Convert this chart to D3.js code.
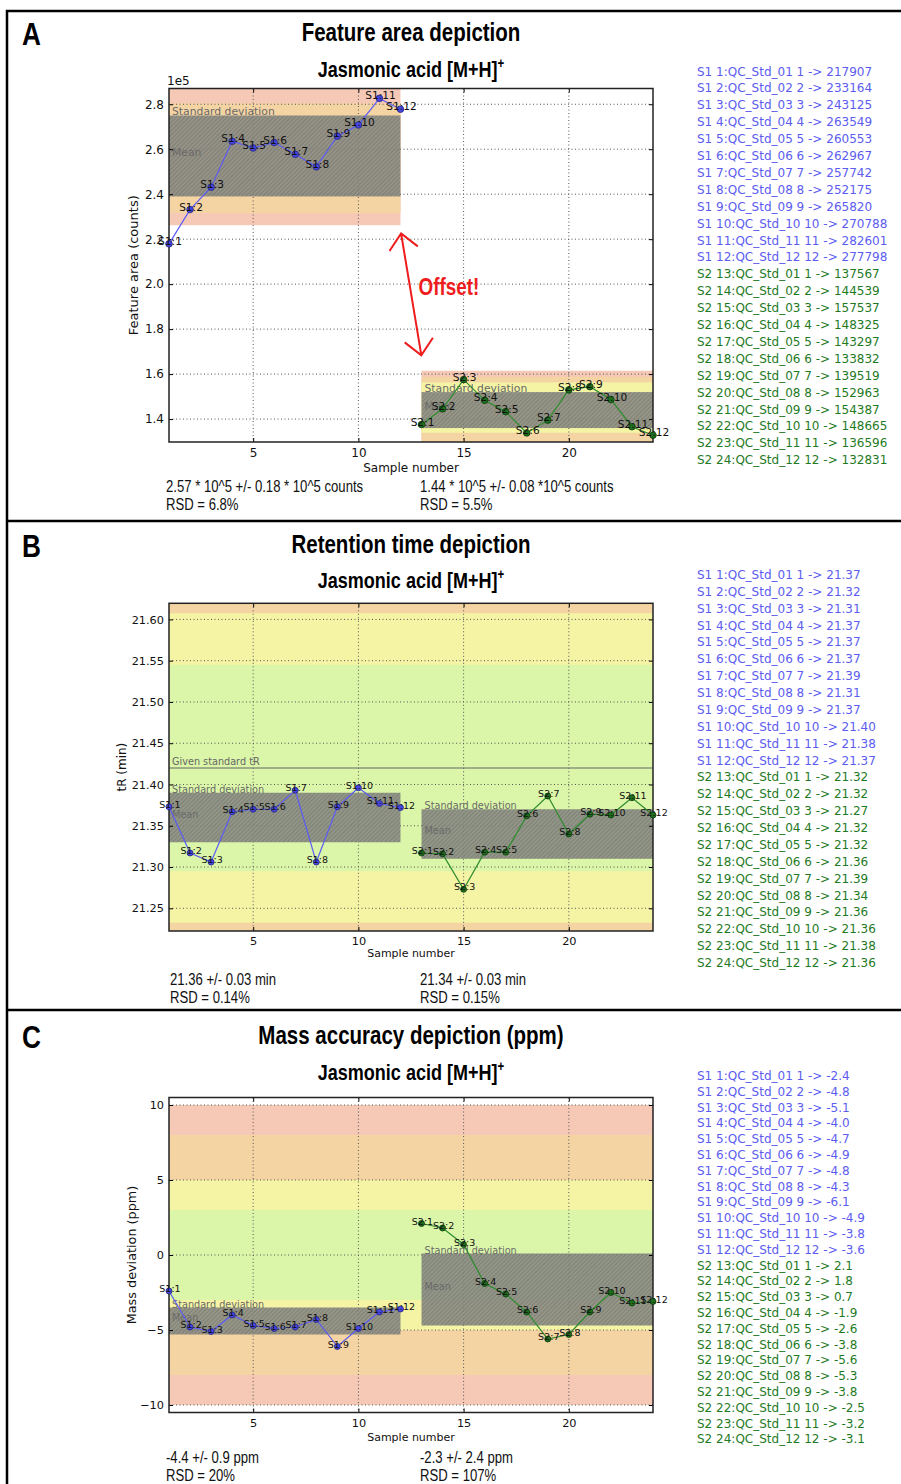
<!DOCTYPE html>
<html lang="en">
<head>
<meta charset="UTF-8">
<title>QC depiction - Jasmonic acid</title>
<style>
  body { margin: 0; background: #fff; }
  svg text { font-family: "DejaVu Sans", sans-serif; }
  svg .narrow { font-family: "Liberation Sans", Arial, sans-serif; }
</style>
<script src="https://cdn.jsdelivr.net/npm/d3@7"></script>
</head>
<body>
<svg id="fig" width="901" height="1484"></svg>
<script>
// --- data -------------------------------------------------------------
const sampleNames = ["QC_Std_01", "QC_Std_02", "QC_Std_03", "QC_Std_04", "QC_Std_05", "QC_Std_06",
                     "QC_Std_07", "QC_Std_08", "QC_Std_09", "QC_Std_10", "QC_Std_11", "QC_Std_12"];
const batchNames = ["S1", "S2"];
const batchRange = [[1, 12], [13, 24]];          // sample numbers of each batch
const xTicks = [5, 10, 15, 20];

// feature area (counts)
const areaS1 = [217907, 233164, 243125, 263549, 260553, 262967, 257742, 252175, 265820, 270788, 282601, 277798];
const areaS2 = [137567, 144539, 157537, 148325, 143297, 133832, 139519, 152963, 154387, 148665, 136596, 132831];
const areaStats = [[2.57, 0.18], [1.44, 0.08]];  // mean, sd (x 10^5)
const areaTicks = [1.4, 1.6, 1.8, 2.0, 2.2, 2.4, 2.6, 2.8];
// [x0, x1, y0, y1, level]
const areaBands = [
  [1, 12, 2.262, 2.90, "pink"], [1, 12, 2.316, 2.804, "orange"],
  [13, 24, 1.25, 1.615, "pink"], [13, 24, 1.25, 1.588, "orange"], [13, 24, 1.339, 1.563, "yellow"]
];
const areaText = [["2.57 * 10^5 +/- 0.18 * 10^5 counts", "RSD = 6.8%"],
                  ["1.44 * 10^5 +/- 0.08 *10^5 counts", "RSD = 5.5%"]];
const offsetArrow = [[12.03, 2.225], [12.99, 1.684]];
const offsetLabel = [14.3, 1.95, "Offset!"];

// retention time (min)
const rtS1 = [21.373, 21.317, 21.306, 21.367, 21.370, 21.370, 21.393, 21.306, 21.373, 21.396, 21.377, 21.372];
const rtS2 = [21.317, 21.316, 21.273, 21.318, 21.318, 21.362, 21.386, 21.340, 21.364, 21.363, 21.384, 21.363];
const rtStats = [[21.36, 0.03], [21.34, 0.03]];
const rtTicks = [21.25, 21.30, 21.35, 21.40, 21.45, 21.50, 21.55, 21.60];
const rtStandard = 21.42;
const rtBands = [
  [1, 24, 21.10, 21.70, "orange"], [1, 24, 21.2325, 21.6075, "yellow"], [1, 24, 21.295, 21.545, "green"]
];
const rtText = [["21.36 +/- 0.03 min", "RSD = 0.14%"], ["21.34 +/- 0.03 min", "RSD = 0.15%"]];

// mass deviation (ppm)
const massS1 = [-2.4, -4.8, -5.1, -4.0, -4.7, -4.9, -4.8, -4.3, -6.1, -4.9, -3.8, -3.6];
const massS2 = [2.1, 1.8, 0.7, -1.9, -2.6, -3.8, -5.6, -5.3, -3.8, -2.5, -3.2, -3.1];
const massStats = [[-4.4, 0.9], [-2.3, 2.4]];
const massTicks = [-10, -5, 0, 5, 10];
const massBands = [
  [1, 24, -10, 10, "pink"], [1, 24, -8, 8, "orange"], [1, 24, -5, 5, "yellow"], [1, 24, -3, 3, "green"]
];
const massText = [["-4.4 +/- 0.9 ppm", "RSD = 20%"], ["-2.3 +/- 2.4 ppm", "RSD = 107%"]];

// --- styles -----------------------------------------------------------
const bandColors = {pink: "#f6c9b7", orange: "#f5d4a4", yellow: "#f4f4a4", green: "#dbf6a8"};
const lineColors = ["#5b5bf5", "#2e8b2e"];
const dotFill = ["#4848e0", "#1e6e1e"];
const dotStroke = ["#22227a", "#0a3a0a"];
const listColors = ["#5c5cf0", "#1f7a1f"];
const plotLeft = 169, plotRight = 653;
const squeeze = 0.82;   // Arial Narrow look from Liberation Sans

const svg = d3.select("#fig");
const defs = svg.append("defs");

const pat = defs.append("pattern").attr("id", "hatch")
    .attr("width", 3).attr("height", 3)
    .attr("patternUnits", "userSpaceOnUse")
    .attr("patternTransform", "rotate(45)");
pat.append("rect").attr("width", 3).attr("height", 3).attr("fill", "#8a8b84");
pat.append("line").attr("x1", 0).attr("y1", 0).attr("x2", 0).attr("y2", 3)
    .attr("stroke", "#5e605a").attr("stroke-width", 1);

// outer frame and dividers
svg.append("rect").attr("x", 7).attr("y", 11).attr("width", 920).attr("height", 1500)
    .attr("fill", "none").attr("stroke", "#000").attr("stroke-width", 2.5);
[521, 1010].forEach(yy => {
  svg.append("line").attr("x1", 7).attr("x2", 901).attr("y1", yy).attr("y2", yy)
      .attr("stroke", "#000").attr("stroke-width", 2.5);
});

// condensed text (no narrow face installed, so squeeze horizontally)
function narrow(sel, x, y, size, anchor) {
  return sel.append("text").attr("class", "narrow")
      .attr("transform", `translate(${x},${y}) scale(${squeeze},1)`)
      .attr("text-anchor", anchor || "start").attr("font-size", size);
}

function drawPanel(p) {
  const x = d3.scaleLinear().domain([1, 24]).range([plotLeft, plotRight]);
  const y = d3.scaleLinear().domain(p.yDomain).range([p.plotBottom, p.plotTop]);
  const g = svg.append("g");

  // headings
  narrow(g, 22, p.letterY, 32).attr("font-weight", "bold").text(p.letter);
  narrow(g, 411, p.titleY, 25, "middle").attr("font-weight", "bold").text(p.title);
  const sub = narrow(g, 411, p.subY, 22, "middle").attr("font-weight", "bold");
  sub.append("tspan").text("Jasmonic acid [M+H]");
  sub.append("tspan").attr("font-size", 14).attr("dy", -9).text("+");

  const clipId = "clip" + p.letter;
  defs.append("clipPath").attr("id", clipId).append("rect")
      .attr("x", plotLeft).attr("y", p.plotTop)
      .attr("width", plotRight - plotLeft).attr("height", p.plotBottom - p.plotTop);
  const plot = g.append("g").attr("clip-path", `url(#${clipId})`);

  // coloured acceptance bands
  plot.selectAll("rect.band").data(p.bands).join("rect").attr("class", "band")
      .attr("x", d => x(d[0])).attr("width", d => x(d[1]) - x(d[0]))
      .attr("y", d => y(d[3])).attr("height", d => y(d[2]) - y(d[3]))
      .attr("fill", d => bandColors[d[4]]);

  // grid
  plot.selectAll("line.gy").data(p.yTicks).join("line").attr("class", "gy")
      .attr("x1", plotLeft).attr("x2", plotRight).attr("y1", d => y(d)).attr("y2", d => y(d))
      .attr("stroke", "#555").attr("stroke-dasharray", "1,2.5");
  plot.selectAll("line.gx").data(xTicks).join("line").attr("class", "gx")
      .attr("y1", p.plotTop).attr("y2", p.plotBottom).attr("x1", d => x(d)).attr("x2", d => x(d))
      .attr("stroke", "#555").attr("stroke-dasharray", "1,2.5");

  // given standard line
  if (p.standard !== undefined) {
    plot.append("line").attr("x1", plotLeft).attr("x2", plotRight)
        .attr("y1", y(p.standard)).attr("y2", y(p.standard))
        .attr("stroke", "#666").attr("stroke-width", 1.2);
    plot.append("text").attr("x", plotLeft + 3).attr("y", y(p.standard) - 3)
        .attr("font-size", p.bandFont).attr("fill", "#666").text("Given standard tR");
  }

  // mean +/- sd boxes
  p.stats.forEach((s, b) => {
    const [m, sd] = s;
    const [x0, x1] = batchRange[b];
    plot.append("rect").attr("x", x(x0)).attr("width", x(x1) - x(x0))
        .attr("y", y(m + sd)).attr("height", y(m - sd) - y(m + sd))
        .attr("fill", "url(#hatch)").attr("opacity", 0.9);
    plot.append("text").attr("x", x(x0) + 3).attr("y", y(m + sd))
        .attr("font-size", p.bandFont).attr("fill", "#6a6a6a").text("Standard deviation");
    plot.append("text").attr("x", x(x0) + 3).attr("y", y(m))
        .attr("font-size", p.bandFont).attr("fill", "#6a6a6a").text("Mean");
  });

  // axes
  const fmt = d3.format(p.fmt);
  const axL = g.append("g").attr("transform", `translate(${plotLeft},0)`)
      .call(d3.axisLeft(y).tickValues(p.yTicks).tickFormat(fmt).tickSize(-4).tickPadding(5));
  const axR = g.append("g").attr("transform", `translate(${plotRight},0)`)
      .call(d3.axisRight(y).tickValues(p.yTicks).tickFormat("").tickSize(-4));
  const axB = g.append("g").attr("transform", `translate(0,${p.plotBottom})`)
      .call(d3.axisBottom(x).tickValues(xTicks).tickFormat(d3.format("d")).tickSize(-4).tickPadding(p.xPad));
  const axT = g.append("g").attr("transform", `translate(0,${p.plotTop})`)
      .call(d3.axisTop(x).tickValues(xTicks).tickFormat("").tickSize(-4));
  [axL, axR, axB, axT].forEach(a => {
    a.select(".domain").remove();
    a.selectAll("line").attr("stroke", "#000");
    a.selectAll("text").attr("font-family", "DejaVu Sans").attr("font-size", p.tickFont).attr("fill", "#111");
  });
  g.append("rect").attr("x", plotLeft).attr("y", p.plotTop)
      .attr("width", plotRight - plotLeft).attr("height", p.plotBottom - p.plotTop)
      .attr("fill", "none").attr("stroke", "#222").attr("stroke-width", 1.5);

  g.append("text").attr("x", 411).attr("y", p.xLabelY).attr("text-anchor", "middle")
      .attr("font-size", p.labelFont).attr("fill", "#111").text("Sample number");
  g.append("text").attr("transform", `translate(${p.yLabelX},${(p.plotTop + p.plotBottom) / 2}) rotate(-90)`)
      .attr("text-anchor", "middle").attr("font-size", p.yLabelFont).attr("fill", "#111").text(p.yLabel);
  if (p.offsetText) {
    g.append("text").attr("x", plotLeft - 2).attr("y", p.plotTop - 4)
        .attr("font-size", p.tickFont).attr("fill", "#111").text(p.offsetText);
  }

  // series
  const line = d3.line().x(d => x(d[0])).y(d => y(d[1]));
  p.series.forEach((vals, b) => {
    const pts = vals.map((v, i) => [batchRange[b][0] + i, v]);
    g.append("path").datum(pts).attr("d", line)
        .attr("fill", "none").attr("stroke", lineColors[b]).attr("stroke-width", 1.2);
    g.selectAll(null).data(pts).join("circle")
        .attr("cx", d => x(d[0])).attr("cy", d => y(d[1])).attr("r", p.dotR)
        .attr("fill", dotFill[b]).attr("stroke", dotStroke[b]).attr("stroke-width", 0.8);
    g.selectAll(null).data(pts).join("text")
        .attr("x", d => x(d[0]) + 1).attr("y", d => y(d[1]) + 1)
        .attr("text-anchor", "middle").attr("font-size", p.pointFont).attr("fill", "#111")
        .text((d, i) => `${batchNames[b]}:${i + 1}`);
  });

  // annotation arrow
  if (p.arrow) {
    const [a, c] = p.arrow.map(d => [x(d[0]), y(d[1])]);
    const ang = Math.atan2(c[1] - a[1], c[0] - a[0]);
    const head = (tip, dir) => {
      const l = 21, w = 0.75;
      return `M${tip[0] + l * Math.cos(dir + w)},${tip[1] + l * Math.sin(dir + w)}L${tip[0]},${tip[1]}` +
             `L${tip[0] + l * Math.cos(dir - w)},${tip[1] + l * Math.sin(dir - w)}`;
    };
    g.append("path").attr("d", `M${a[0]},${a[1]}L${c[0]},${c[1]}` + head(a, ang) + head(c, ang + Math.PI))
        .attr("fill", "none").attr("stroke", "#ee1c1c").attr("stroke-width", 2);
    narrow(g, x(p.arrowLabel[0]), y(p.arrowLabel[1]), 23, "middle")
        .attr("font-weight", "bold").attr("fill", "#ee1c1c").text(p.arrowLabel[2]);
  }

  // summary texts
  p.summary.forEach((rows, b) => {
    rows.forEach((t, r) => {
      narrow(g, p.summaryX[b], p.summaryY[r], 16).attr("fill", "#111").text(t);
    });
  });

  // sample listing on the right
  const rows = [];
  p.series.forEach((vals, b) => vals.forEach((v, i) => rows.push({b, i, v})));
  g.selectAll(null).data(rows).join("text")
      .attr("x", 697).attr("y", (d, k) => p.listY + k * p.listStep)
      .attr("font-size", p.listFont).attr("fill", d => listColors[d.b])
      .text(d => `${batchNames[d.b]} ${batchRange[d.b][0] + d.i}:${sampleNames[d.i]} ${d.i + 1} -> ${p.listFmt(d.v)}`);
}

drawPanel({
  letter: "A", title: "Feature area depiction", letterY: 45, titleY: 41, subY: 77,
  plotTop: 88.5, plotBottom: 442, yDomain: [1.298, 2.87], yTicks: areaTicks, fmt: ".1f",
  yLabel: "Feature area (counts)", yLabelX: 138, xLabelY: 472, xPad: 6, offsetText: "1e5",
  bands: areaBands, stats: areaStats,
  series: [areaS1.map(v => v / 1e5), areaS2.map(v => v / 1e5)],
  listFmt: v => Math.round(v * 1e5),
  arrow: offsetArrow, arrowLabel: offsetLabel,
  summary: areaText, summaryX: [166, 420], summaryY: [492, 510],
  tickFont: 12, labelFont: 12, yLabelFont: 13, pointFont: 10.6, bandFont: 10.8, dotR: 3.3,
  listY: 75.5, listStep: 16.9, listFont: 12
});

drawPanel({
  letter: "B", title: "Retention time depiction", letterY: 557, titleY: 553, subY: 588,
  plotTop: 603.3, plotBottom: 931, yDomain: [21.2225, 21.6195], yTicks: rtTicks, fmt: ".2f",
  yLabel: "tR (min)", yLabelX: 126, xLabelY: 957, xPad: 6,
  bands: rtBands, stats: rtStats, standard: rtStandard,
  series: [rtS1, rtS2],
  listFmt: v => v.toFixed(2),
  summary: rtText, summaryX: [170, 420], summaryY: [985, 1003],
  tickFont: 11.3, labelFont: 11, yLabelFont: 12, pointFont: 9.5, bandFont: 9.7, dotR: 3,
  listY: 579, listStep: 16.87, listFont: 12
});

drawPanel({
  letter: "C", title: "Mass accuracy depiction (ppm)", letterY: 1048, titleY: 1044, subY: 1080,
  plotTop: 1097.5, plotBottom: 1412.5, yDomain: [-10.5, 10.5], yTicks: massTicks, fmt: "d",
  yLabel: "Mass deviation (ppm)", yLabelX: 136, xLabelY: 1441, xPad: 6,
  bands: massBands, stats: massStats,
  series: [massS1, massS2],
  listFmt: v => v.toFixed(1),
  summary: massText, summaryX: [166, 420], summaryY: [1463, 1481],
  tickFont: 11.3, labelFont: 11, yLabelFont: 12.8, pointFont: 9.5, bandFont: 9.7, dotR: 3,
  listY: 1080, listStep: 15.8, listFont: 12
});
</script>
</body>
</html>
